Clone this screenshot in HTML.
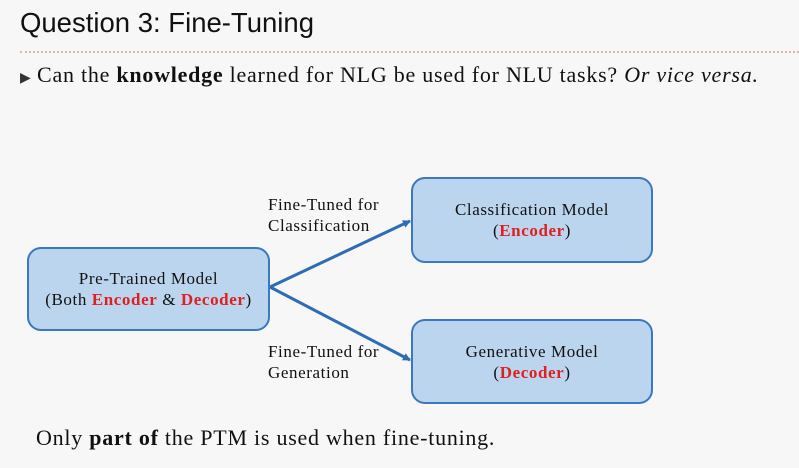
<!DOCTYPE html>
<html><head><style>
body{margin:0;width:799px;height:468px;background:#f7f7f7;position:relative;overflow:hidden;font-family:"Liberation Serif",serif;color:#111}
.t{position:absolute;left:20px;top:7px;font:27.5px "Liberation Sans",sans-serif;color:#111}
.hr{position:absolute;left:20px;right:0;top:51px;border-top:2px dotted #e0b8a0}
.b{position:absolute;left:20px;top:62px;font-size:22px;letter-spacing:0.75px}
.box{position:absolute;background:#bcd5ee;border:2px solid #3a78c0;border-radius:14px;box-sizing:border-box;text-align:center;font-size:17px;letter-spacing:0.6px;line-height:21px;display:flex;align-items:center;justify-content:center}
.r{color:#e02020;font-weight:bold}
.l{position:absolute;font-size:17px;letter-spacing:0.6px;line-height:21px}
</style></head><body>
<div class="t">Question 3: Fine-Tuning</div>
<div class="hr"></div>
<div class="b"><span style="font-size:14px;color:#333;letter-spacing:0">&#9654;</span> Can the <b>knowledge</b> learned for NLG be used for NLU tasks? <i>Or vice versa.</i></div>
<svg style="position:absolute;left:0;top:0" width="799" height="468">
<defs><marker id="a" markerWidth="8" markerHeight="8" refX="7" refY="4" orient="auto" markerUnits="userSpaceOnUse"><path d="M0,0L8,4L0,8z" fill="#2e6db5"/></marker></defs>
<path d="M270,287L410,221" stroke="#2e6db5" stroke-width="3" fill="none" marker-end="url(#a)"/>
<path d="M270,287L410,360" stroke="#2e6db5" stroke-width="3" fill="none" marker-end="url(#a)"/>
</svg>
<div class="box" style="left:27px;top:247px;width:243px;height:84px"><div>Pre-Trained Model<br>(Both <span class="r">Encoder</span> &amp; <span class="r">Decoder</span>)</div></div>
<div class="box" style="left:411px;top:177px;width:242px;height:86px"><div>Classification Model<br>(<span class="r">Encoder</span>)</div></div>
<div class="box" style="left:411px;top:319px;width:242px;height:85px"><div>Generative Model<br>(<span class="r">Decoder</span>)</div></div>
<div class="l" style="left:268px;top:194px">Fine-Tuned for<br>Classification</div>
<div class="l" style="left:268px;top:341px">Fine-Tuned for<br>Generation</div>
<div class="b" style="left:36px;top:425px">Only <b>part of</b> the PTM is used when fine-tuning.</div>
</body></html>
